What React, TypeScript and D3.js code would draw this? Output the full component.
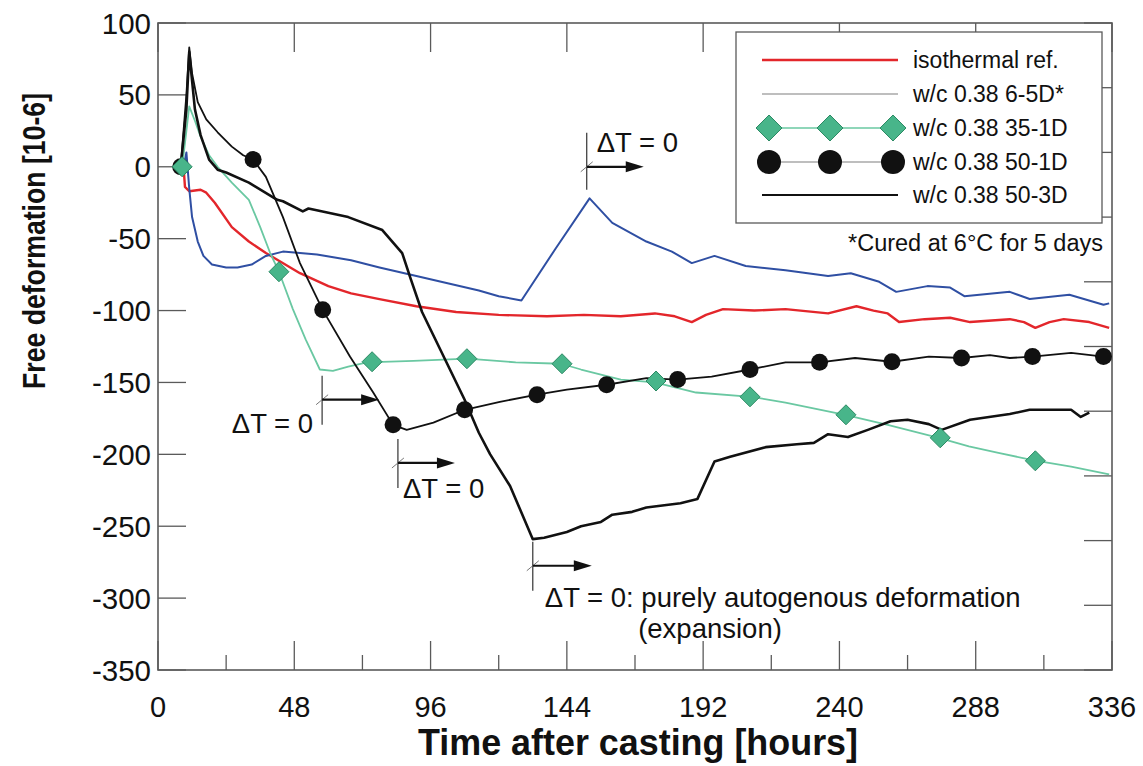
import React from 'react';
import * as d3 from 'd3';

type P = [number, number];

const xTicksMajor = [0, 48, 96, 144, 192, 240, 288, 336];
const xTicksMinor = [24, 72, 120, 168, 216, 264, 312];
const yTicks = [100, 50, 0, -50, -100, -150, -200, -250, -300, -350];
const rightTickSteps = [0, 1, 2, 3, 4, 5, 6, 7, 8, 9, 10];

const legendLabels = ['isothermal ref.', 'w/c 0.38 6-5D*', 'w/c 0.38 35-1D', 'w/c 0.38 50-1D', 'w/c 0.38 50-3D'];

const isoRef: P[] = [[9, 0], [9.5, -14], [11, -17], [15, -16], [17, -18], [20, -25], [26, -42], [32, -52], [38, -60], [50, -74], [60, -83], [68, -88], [78, -92], [91, -97], [105, -101], [120, -103], [137, -104], [150, -103], [163, -104], [175, -102], [182, -104], [188, -108], [193, -103], [199, -99], [210, -100], [221, -99], [236, -102], [246, -97], [252, -100], [257, -102], [261, -108], [270, -106], [279, -105], [286, -108], [300, -106], [305, -108], [309, -112], [314, -108], [319, -106], [328, -108], [335, -112]];

const wc6_5D: P[] = [[9, 0], [10, 10], [11, -15], [12, -35], [14, -52], [16, -62], [19, -68], [24, -70], [28, -70], [33, -68], [38, -62], [44, -59], [56, -61], [68, -65], [78, -70], [91, -76], [102, -81], [113, -86], [120, -90], [128, -93], [140, -57], [152, -22], [160, -39], [172, -52], [181, -59], [188, -67], [196, -62], [207, -69], [221, -72], [236, -76], [244, -74], [254, -80], [260, -87], [271, -83], [279, -84], [284, -90], [300, -87], [307, -92], [321, -89], [333, -96], [335, -95]];

const wc35_1D: P[] = [[8.5, 0], [10, 25], [11, 42], [13, 32], [15, 21], [18, 8], [21, 0], [26, -11], [32, -23], [36, -42], [39.5, -60], [42.6, -73], [47.5, -99], [52, -120], [57, -141], [61.6, -142], [67, -139], [73.6, -136], [90, -135], [109, -133.5], [126, -136], [142, -137], [149, -141], [163, -148], [175, -150], [189.5, -157], [209, -160], [221, -164], [242, -172.5], [257, -179.5], [275, -188.5], [285.6, -194.5], [296, -199], [308, -204], [321.6, -208.5], [335, -214]];
const wc35_1DMarkers: P[] = [[8.5, 0], [42.6, -73], [75.4, -135.6], [108.8, -133.5], [142.3, -137], [175.4, -149], [208.5, -160], [242.3, -172.5], [275.5, -188.5], [309, -204.5]];

const wc50_1D: P[] = [[8, 0], [10, 50], [11, 83], [12, 65], [14, 45], [17, 33], [21, 24], [26, 14], [30, 8], [33.5, 5], [38, -7], [44, -35], [50, -67], [58, -99.5], [67.6, -132], [75.8, -157], [82.8, -179.5], [87.6, -183], [97, -178], [108, -169], [120.4, -163.5], [133.5, -158.5], [144, -155], [158, -151.6], [172, -147], [183, -148], [195, -146], [208.5, -141], [221, -136], [233, -136], [245.5, -133], [258.5, -135.6], [271.5, -132], [283, -133], [293, -131], [300, -133], [308, -132], [321.6, -129.5], [333, -132]];
const wc50_1DMarkers: P[] = [[8, 0], [33.5, 5], [58, -99.5], [82.8, -179.5], [108, -169], [133.5, -158.5], [158, -151.6], [183, -148], [208.5, -141], [233, -136], [258.5, -135.6], [283, -133], [308, -132], [333, -132]];

const wc50_3D: P[] = [[8, 0], [10, 40], [11, 80], [12, 60], [13, 40], [15, 22], [18, 5], [21, -2], [24, -4], [32, -11], [42, -23], [44, -24], [51, -31], [53, -29], [67, -35], [79, -44], [86, -60], [89, -78], [93, -101], [108, -162], [113, -185], [117, -200], [124, -222], [132, -259], [136, -258], [144, -254], [149, -250], [156, -247], [160, -242], [167, -240], [172, -237], [184, -234], [190, -231], [196, -205], [201.5, -201.7], [214, -195], [225, -193], [231, -192], [236, -186], [243, -188], [250, -183], [258, -177], [264, -176], [271.5, -179], [276, -183], [286, -176], [300, -172], [307, -169], [321.6, -169], [325, -174], [328, -171]];

// annotations: anchor in data coordinates (hours, deformation)
const annoHours = [151, 57.8, 84.5, 132];
const annoValues = [0, -162, -206, -277.5];
const annoText = ['ΔT = 0', 'ΔT = 0', 'ΔT = 0', 'ΔT = 0: purely autogenous deformation'];
const annoSub = '(expansion)';
const footnote = '*Cured at 6°C for 5 days';

const RED = '#e3262b';
const BLUE = '#2f4fa3';
const GREEN_LINE = '#6ac8a2';
const GREEN_FILL = '#48b58a';
const GREEN_STROKE = '#2c8a64';
const BLACK = '#111';
const FRAME = '#5a5a5a';
const FONT = '"Liberation Sans", Arial, Helvetica, sans-serif';

const diamond = (s: number) => `M0,${-s}L${s},0L0,${s}L${-s},0Z`;

export default function App() {
  const W = 1143, H = 766;
  const L = 158, R = 1112, T = 23, B = 670;
  const x = d3.scaleLinear().domain([0, 336]).range([L, R]);
  const y = d3.scaleLinear().domain([-350, 100]).range([B, T]);
  const yr = d3.scaleLinear().domain([0, 10]).range([B, T]);
  const line = d3.line<P>().x(d => x(d[0])).y(d => y(d[1]));

  const lg = { x0: 736, y0: 32, x1: 1102, y1: 223 };
  const rowY = [60, 94, 128, 162, 195];

  return (
    <svg width={W} height={H} style={{ position: 'absolute', left: 0, top: 0, background: '#fff' }} fontFamily={FONT}>
      <rect x={0} y={0} width={W} height={H} fill="#fff" />
      {/* ticks */}
      <g stroke={FRAME} strokeWidth={1.3}>
        {xTicksMajor.map(t => (
          <g key={'xm' + t}>
            <line x1={x(t)} x2={x(t)} y1={B} y2={B - 29} />
            <line x1={x(t)} x2={x(t)} y1={T} y2={T + 29} />
          </g>
        ))}
        {xTicksMinor.map(t => (
          <line key={'xn' + t} x1={x(t)} x2={x(t)} y1={B} y2={B - 15} />
        ))}
        {yTicks.map(t => (
          <line key={'y' + t} x1={L} x2={L + 28} y1={y(t)} y2={y(t)} />
        ))}
        {rightTickSteps.map(t => (
          <line key={'r' + t} x1={R} x2={R - 28} y1={yr(t)} y2={yr(t)} />
        ))}
      </g>
      <rect x={L} y={T} width={R - L} height={B - T} fill="none" stroke={FRAME} strokeWidth={1.6} />

      {/* tick labels */}
      {xTicksMajor.map(t => (
        <text key={'xl' + t} x={x(t)} y={717} textAnchor="middle" fontSize={29} fill="#111">{t}</text>
      ))}
      {yTicks.map(t => (
        <text key={'yl' + t} x={151} y={y(t) + 10.5} textAnchor="end" fontSize={29.5} fill="#111">{t}</text>
      ))}

      {/* axis titles */}
      <text x={638} y={755} textAnchor="middle" fontSize={36} fontWeight="bold" fill="#111"
        textLength={440} lengthAdjust="spacingAndGlyphs">Time after casting [hours]</text>
      <text transform={`translate(45,${241}) rotate(-90)`} textAnchor="middle" fontSize={32} fontWeight="bold" fill="#111"
        textLength={296} lengthAdjust="spacingAndGlyphs">Free deformation [10-6]</text>

      {/* series */}
      <path d={line(isoRef) || ''} fill="none" stroke={RED} strokeWidth={2.4} strokeLinejoin="round" />
      <path d={line(wc6_5D) || ''} fill="none" stroke={BLUE} strokeWidth={2} strokeLinejoin="round" />
      <path d={line(wc35_1D) || ''} fill="none" stroke={GREEN_LINE} strokeWidth={1.8} strokeLinejoin="round" />
      <path d={line(wc50_1D) || ''} fill="none" stroke={BLACK} strokeWidth={1.8} strokeLinejoin="round" />
      <path d={line(wc50_3D) || ''} fill="none" stroke={BLACK} strokeWidth={2.6} strokeLinejoin="round" />
      {wc50_1DMarkers.map((d, i) => (
        <circle key={'c' + i} cx={x(d[0])} cy={y(d[1])} r={8.5} fill={BLACK} />
      ))}
      {wc35_1DMarkers.map((d, i) => (
        <path key={'d' + i} transform={`translate(${x(d[0])},${y(d[1])})`} d={diamond(10)} fill={GREEN_FILL} stroke={GREEN_STROKE} strokeWidth={1} />
      ))}

      {/* annotations */}
      {annoHours.map((h, i) => {
        const ax = x(h), ay = y(annoValues[i]);
        const arrowLen = i === 3 ? 59 : 57;
        const tip = ax + arrowLen;
        let tx = ax + 10, ty = ay - 15, anchor: 'start' | 'end' = 'start';
        if (i === 1) { tx = ax - 9; ty = ay + 33; anchor = 'end'; }
        if (i === 2) { tx = ax + 5; ty = ay + 35; }
        if (i === 3) { tx = ax + 12; ty = ay + 41; }
        const up = i === 0 ? 34 : 24;
        return (
          <g key={'a' + i}>
            <line x1={ax} x2={ax} y1={ay - up} y2={ay + (i === 0 ? 23 : 25)} stroke="#333" strokeWidth={1.2} />
            <line x1={ax - 6} x2={ax + 6} y1={ay + 5} y2={ay - 5} stroke="#777" strokeWidth={1} />
            <line x1={ax} x2={tip - 14} y1={ay} y2={ay} stroke="#111" strokeWidth={2.2} />
            <path d={`M${tip - 18},${ay - 5.5}L${tip},${ay}L${tip - 18},${ay + 5.5}Z`} fill="#111" />
            <text x={tx} y={ty} textAnchor={anchor} fontSize={27.5} fill="#111">{annoText[i]}</text>
            {i === 3 && <text x={710} y={ty + 31} textAnchor="middle" fontSize={27.5} fill="#111">{annoSub}</text>}
          </g>
        );
      })}

      {/* legend */}
      <rect x={lg.x0} y={lg.y0} width={lg.x1 - lg.x0} height={lg.y1 - lg.y0} fill="#fff" stroke={FRAME} strokeWidth={1.3} />
      <line x1={762} x2={898} y1={rowY[0]} y2={rowY[0]} stroke={RED} strokeWidth={2.4} />
      <line x1={762} x2={898} y1={rowY[1]} y2={rowY[1]} stroke="#a8a8a8" strokeWidth={1.5} />
      <line x1={769} x2={893} y1={rowY[2]} y2={rowY[2]} stroke={GREEN_LINE} strokeWidth={1.5} />
      {[769, 830, 893].map(cx => (
        <path key={'ld' + cx} transform={`translate(${cx},${rowY[2]})`} d={diamond(13)} fill={GREEN_FILL} stroke={GREEN_STROKE} strokeWidth={1} />
      ))}
      <line x1={769} x2={893} y1={rowY[3]} y2={rowY[3]} stroke="#a8a8a8" strokeWidth={1.5} />
      {[769, 830, 893].map(cx => (
        <circle key={'lc' + cx} cx={cx} cy={rowY[3]} r={12} fill={BLACK} />
      ))}
      <line x1={762} x2={898} y1={rowY[4]} y2={rowY[4]} stroke={BLACK} strokeWidth={2} />
      {legendLabels.map((s, i) => (
        <text key={'lt' + i} x={913} y={rowY[i] + 8} fontSize={23} fill="#111">{s}</text>
      ))}
      <text x={1103} y={251} textAnchor="end" fontSize={23.5} fill="#111">{footnote}</text>
    </svg>
  );
}
